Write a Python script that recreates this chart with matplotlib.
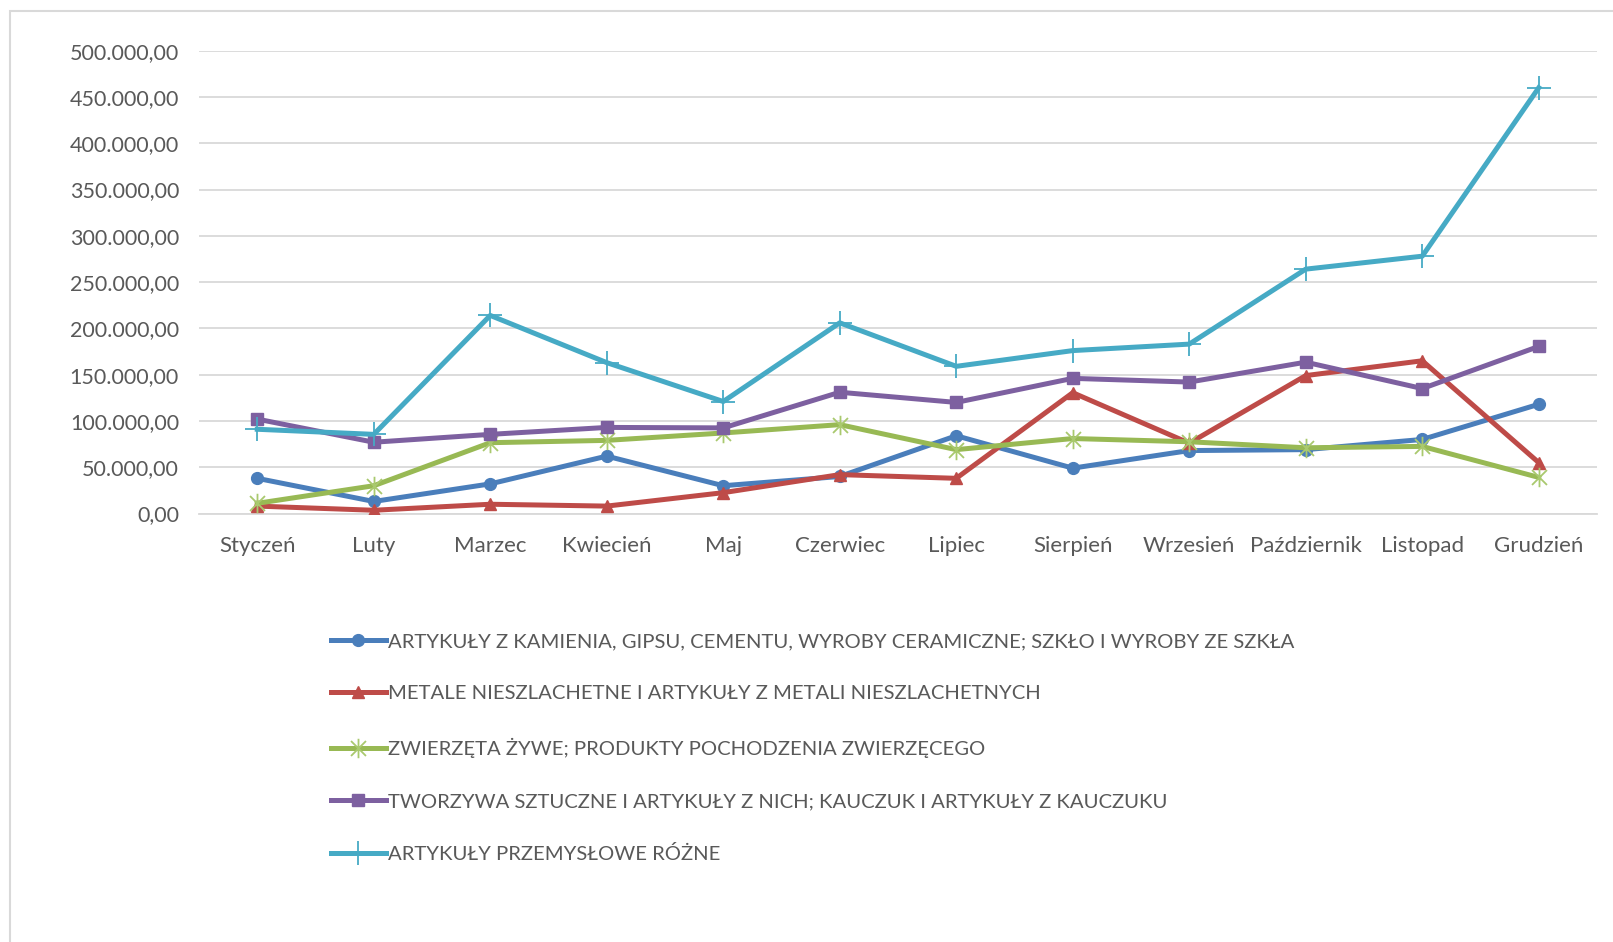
import matplotlib
matplotlib.use("Agg")
import matplotlib.pyplot as plt
from matplotlib.path import Path
from matplotlib.patches import Rectangle
from matplotlib.ticker import FuncFormatter

plt.rcParams['font.family'] = ['Lato', 'DejaVu Sans']

months = ["Styczeń", "Luty", "Marzec", "Kwiecień", "Maj", "Czerwiec", "Lipiec",
          "Sierpień", "Wrzesień", "Październik", "Listopad", "Grudzień"]

series_names = [
    "ARTYKUŁY Z KAMIENIA, GIPSU, CEMENTU, WYROBY CERAMICZNE; SZKŁO I WYROBY ZE SZKŁA",
    "METALE NIESZLACHETNE I ARTYKUŁY Z METALI NIESZLACHETNYCH",
    "ZWIERZĘTA ŻYWE; PRODUKTY POCHODZENIA ZWIERZĘCEGO",
    "TWORZYWA SZTUCZNE I ARTYKUŁY Z NICH; KAUCZUK I ARTYKUŁY Z KAUCZUKU",
    "ARTYKUŁY PRZEMYSŁOWE RÓŻNE",
]

kamien = [38000, 13000, 32000, 62000, 30000, 40000, 84000, 49000, 68000, 69000, 80000, 118000]
metale = [8000, 3500, 10000, 8000, 22500, 42000, 38000, 130500, 76000, 149000, 165000, 55000]
zwierzeta = [11000, 30000, 76500, 79000, 87000, 96000, 69000, 81000, 77500, 71000, 72500, 39000]
tworzywa = [102000, 77000, 85500, 93000, 92500, 131000, 120000, 146000, 142000, 163500, 135000, 180500]
przemyslowe = [91000, 85500, 214000, 163000, 121000, 206000, 159000, 176000, 183000, 264000, 278000, 460000]

yticks = [0, 50000, 100000, 150000, 200000, 250000, 300000, 350000, 400000, 450000, 500000]

colors = ["#4a7ebb", "#be4b48", "#98b954", "#7d60a0", "#46aac5"]

W, H = 1613, 942
fig = plt.figure(figsize=(W / 100, H / 100), dpi=100)
fig.patch.set_facecolor("white")

# outer chart border (cropped at right and bottom in the reference)
fig.patches.append(Rectangle((10 / W, -0.5), 2, (H - 11) / H + 0.5, transform=fig.transFigure,
                             fill=False, edgecolor="#d9d9d9", linewidth=1.5))

L, R, T, B = 199, 1597, 50.7, 513.5
ax = fig.add_axes([L / W, (H - B) / H, (R - L) / W, (B - T) / H])

asterisk = Path([(-1, -1), (1, 1), (-1, 1), (1, -1), (0, -1.3), (0, 1.3)],
                [Path.MOVETO, Path.LINETO, Path.MOVETO, Path.LINETO, Path.MOVETO, Path.LINETO])

x = list(range(len(months)))
lw = 3.6
ax.plot(x, kamien, color=colors[0], lw=lw, marker="o", ms=8.5, label=series_names[0], zorder=3)
ax.plot(x, metale, color=colors[1], lw=lw, marker="^", ms=9, label=series_names[1], zorder=3)
ax.plot(x, zwierzeta, color=colors[2], lw=lw, marker=asterisk, ms=14, mew=1.3,
        mec="#a9c96e", mfc="none", label=series_names[2], zorder=3)
ax.plot(x, tworzywa, color=colors[3], lw=lw, marker="s", ms=8, label=series_names[3], zorder=3)
ax.plot(x, przemyslowe, color=colors[4], lw=lw, marker="+", ms=17, mew=1.3,
        label=series_names[4], zorder=3)

ax.set_xlim(-0.5, len(months) - 0.5)
ax.set_ylim(0, 500000)
ax.set_yticks(yticks)
ax.yaxis.set_major_formatter(FuncFormatter(
    lambda v, p: "{:,.2f}".format(v).replace(",", " ").replace(".", ",").replace(" ", ".")))
ax.set_xticks(x)
ax.set_xticklabels(months)
ax.grid(axis="y", color="#d9d9d9", linewidth=1.3, zorder=0)
ax.set_axisbelow(True)
for s in ["top", "right", "left"]:
    ax.spines[s].set_visible(False)
ax.spines["bottom"].set_color("#d9d9d9")
ax.spines["bottom"].set_linewidth(1.3)
ax.tick_params(axis="both", length=0, colors="#595959")
ax.tick_params(axis="y", pad=14.4, labelsize=15.5)
ax.tick_params(axis="x", pad=16.5, labelsize=16)

leg = fig.legend(loc="upper left", bbox_to_anchor=(331 / W, (H - 633) / H),
                 frameon=False, fontsize=14.6, handlelength=2.7, handletextpad=0.12,
                 labelspacing=1.73, borderpad=0, borderaxespad=0)
for t in leg.get_texts():
    t.set_color("#595959")

fig.savefig("out.png", dpi=100, facecolor="white")
